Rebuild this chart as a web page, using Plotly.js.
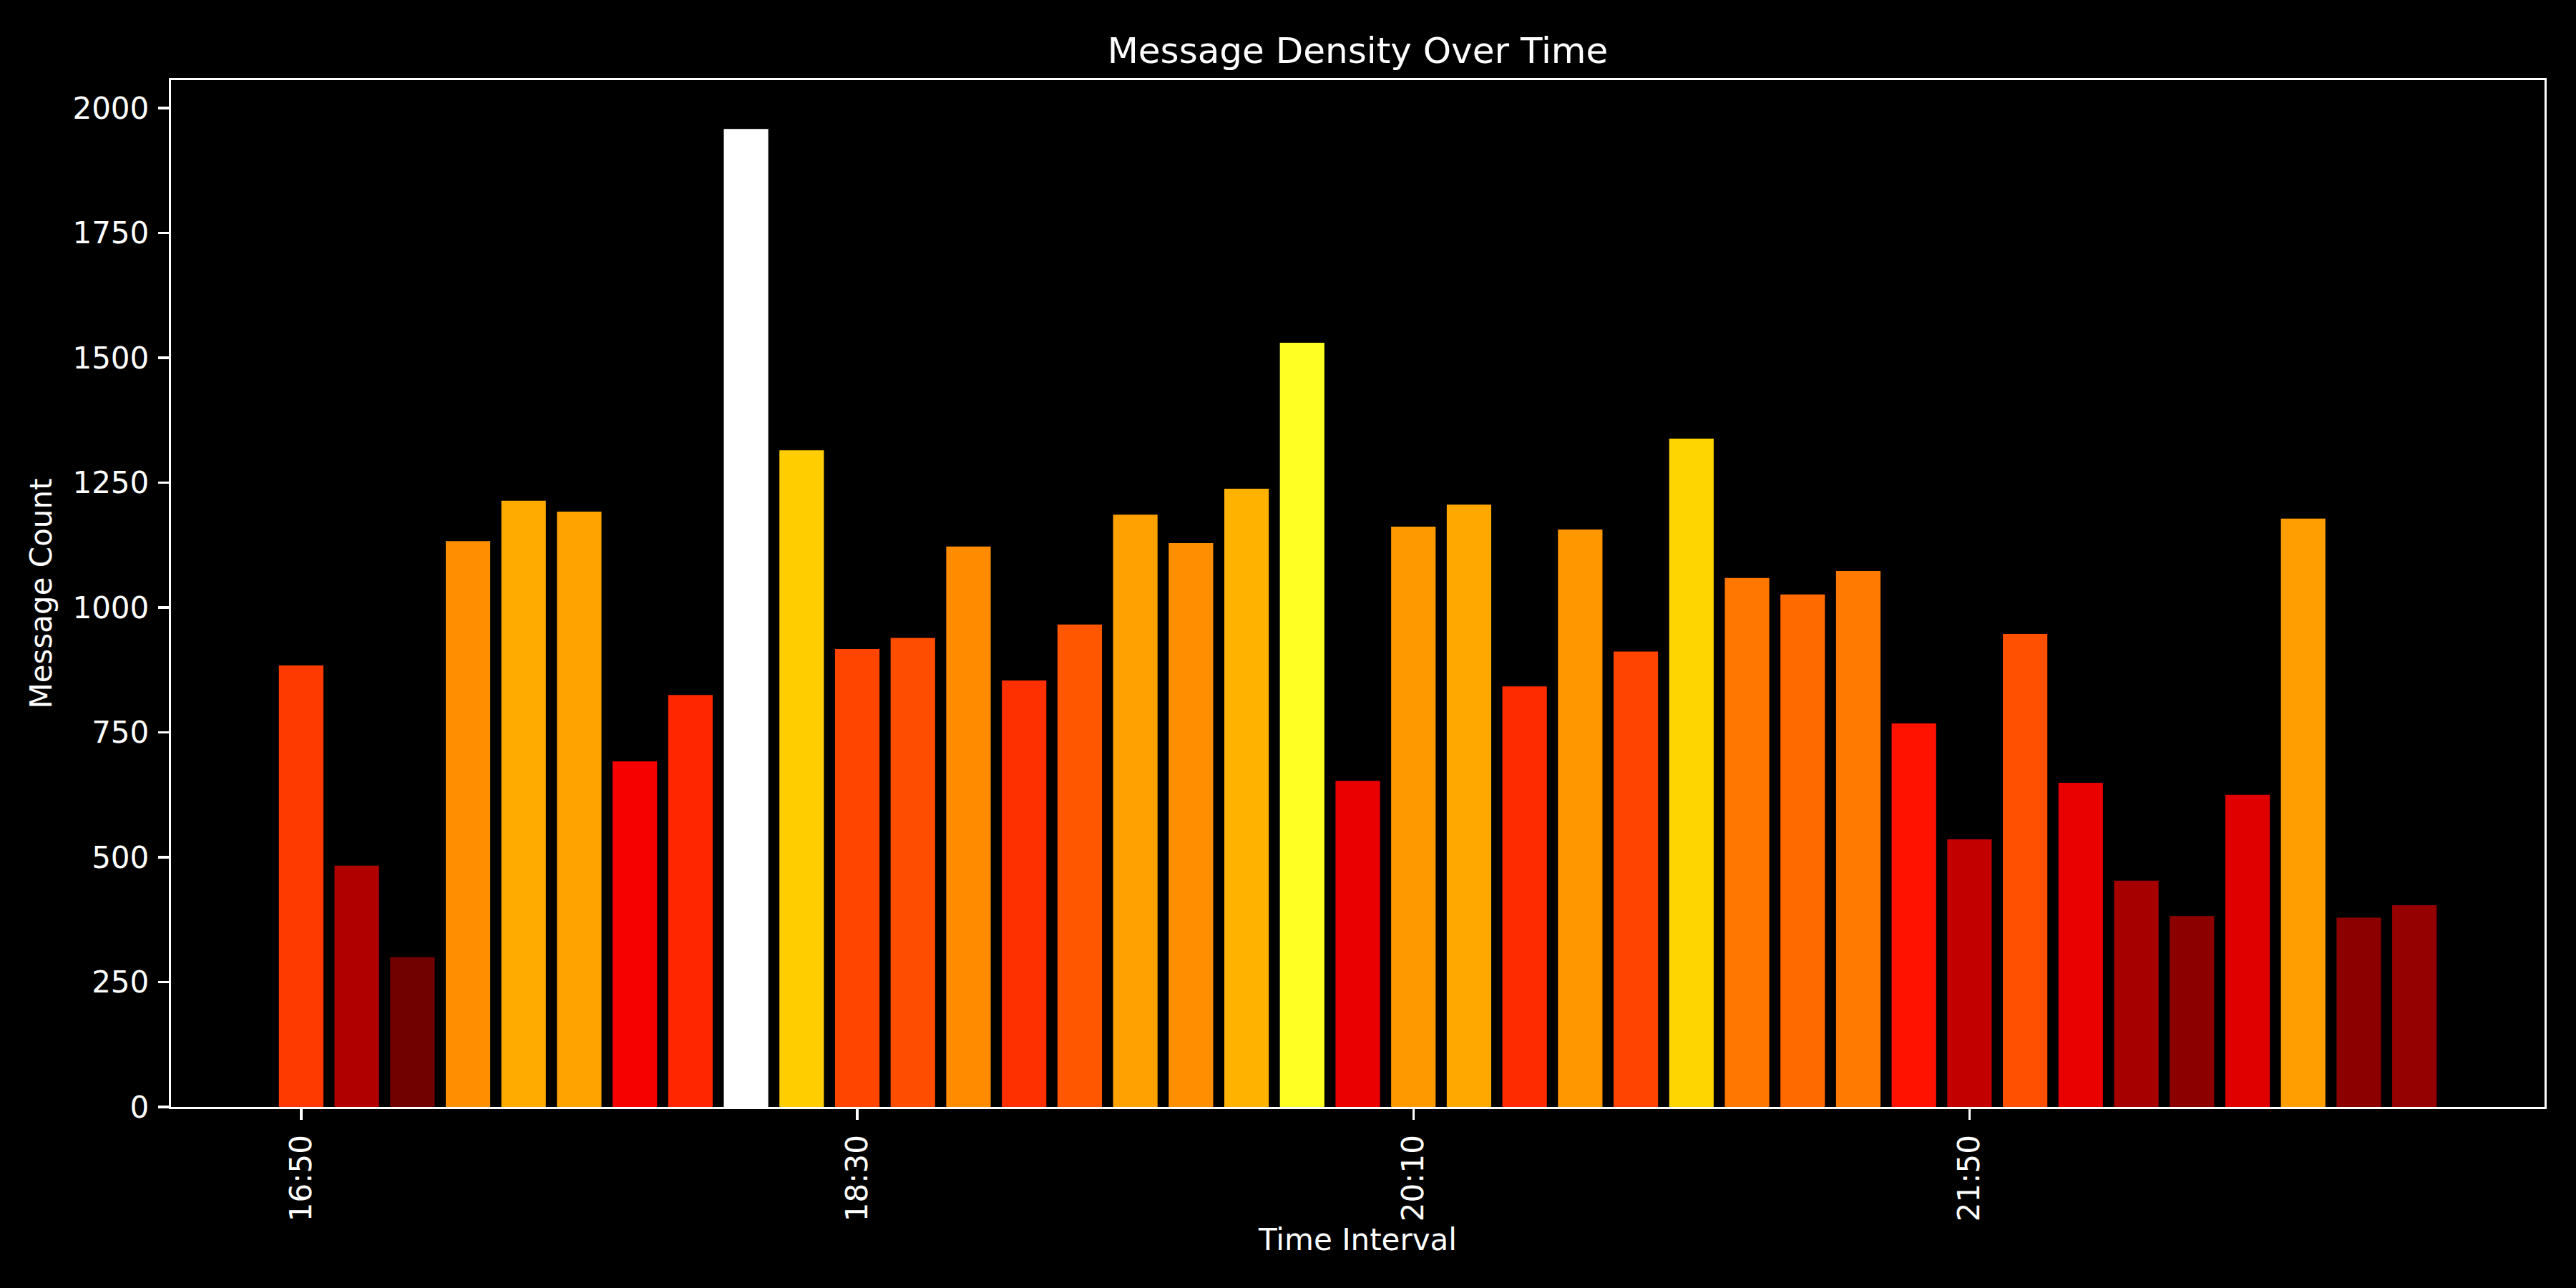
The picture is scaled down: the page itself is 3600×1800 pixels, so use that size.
<!DOCTYPE html>
<html>
<head>
<meta charset="utf-8">
<script src="https://cdn.plot.ly/plotly-3.0.1.min.js"></script>
<style>
  html, body { margin: 0; padding: 0; background: #000; }
  #chart { width: 3600px; height: 1800px; }
</style>
</head>
<body>
<div id="chart"></div>
<script>
const timeLabels = ["16:50","17:00","17:10","17:20","17:30","17:40","17:50","18:00","18:10","18:20",
                    "18:30","18:40","18:50","19:00","19:10","19:20","19:30","19:40","19:50","20:00",
                    "20:10","20:20","20:30","20:40","20:50","21:00","21:10","21:20","21:30","21:40",
                    "21:50","22:00","22:10","22:20","22:30","22:40","22:50","23:00","23:10"];
const messageCounts = [884, 483, 300, 1133, 1214, 1192, 692, 825, 1958, 1315,
                       917, 939, 1122, 854, 966, 1186, 1129, 1238, 1530, 653,
                       1162, 1206, 842, 1156, 912, 1338, 1059, 1026, 1073, 768,
                       536, 947, 649, 453, 382, 625, 1178, 379, 404];
const shownTicks = ["16:50", "18:30", "20:10", "21:50"];

const hotScale = [
  [0, "rgb(11,0,0)"],
  [0.365079, "rgb(255,0,0)"],
  [0.746032, "rgb(255,255,0)"],
  [1, "rgb(255,255,255)"]
];

const maxVal = Math.max(...messageCounts);
const n = timeLabels.length;
const span = (n - 1) + 0.8;

const font = "DejaVu Sans, Liberation Sans, sans-serif";

const data = [{
  type: "bar",
  x: timeLabels,
  y: messageCounts,
  width: 0.8,
  marker: {
    color: messageCounts,
    colorscale: hotScale,
    cmin: 0,
    cmax: maxVal,
    line: { width: 0 }
  },
  hoverinfo: "x+y"
}];

const layout = {
  width: 3600,
  height: 1800,
  paper_bgcolor: "#000000",
  plot_bgcolor: "#000000",
  margin: { l: 239, r: 44, t: 112, b: 253, pad: 0 },
  showlegend: false,
  font: { family: font, color: "#ffffff", size: 42 },
  title: {
    text: "Message Density Over Time",
    font: { family: font, size: 50, color: "#ffffff" },
    x: 0.5, xref: "paper", xanchor: "center",
    y: 1 - 88 / 1800, yref: "container", yanchor: "bottom"
  },
  xaxis: {
    type: "category",
    range: [-0.4 - 0.05 * span, (n - 1) + 0.4 + 0.05 * span],
    tickmode: "array",
    tickvals: shownTicks,
    ticktext: shownTicks,
    tickangle: -90,
    ticks: "outside",
    ticklen: 15,
    tickwidth: 3.3,
    tickcolor: "#ffffff",
    ticklabelstandoff: 4,
    tickfont: { family: font, size: 42, color: "#ffffff" },
    showline: true, linecolor: "#ffffff", linewidth: 3.3, mirror: true,
    showgrid: false, zeroline: false,
    automargin: false,
    title: { text: "Time Interval", font: { family: font, size: 42, color: "#ffffff" }, standoff: 12 }
  },
  yaxis: {
    range: [0, maxVal * 1.05],
    tickmode: "array",
    tickvals: [0, 250, 500, 750, 1000, 1250, 1500, 1750, 2000],
    ticktext: ["0", "250", "500", "750", "1000", "1250", "1500", "1750", "2000"],
    ticks: "outside",
    ticklen: 15,
    tickwidth: 3.3,
    tickcolor: "#ffffff",
    ticklabelstandoff: 4,
    tickfont: { family: font, size: 42, color: "#ffffff" },
    showline: true, linecolor: "#ffffff", linewidth: 3.3, mirror: true,
    showgrid: false, zeroline: false,
    automargin: false,
    title: { text: "Message Count", font: { family: font, size: 42, color: "#ffffff" }, standoff: 16 }
  },
  bargap: 0.2
};

Plotly.newPlot("chart", data, layout, { displayModeBar: false, staticPlot: true });
</script>
</body>
</html>
